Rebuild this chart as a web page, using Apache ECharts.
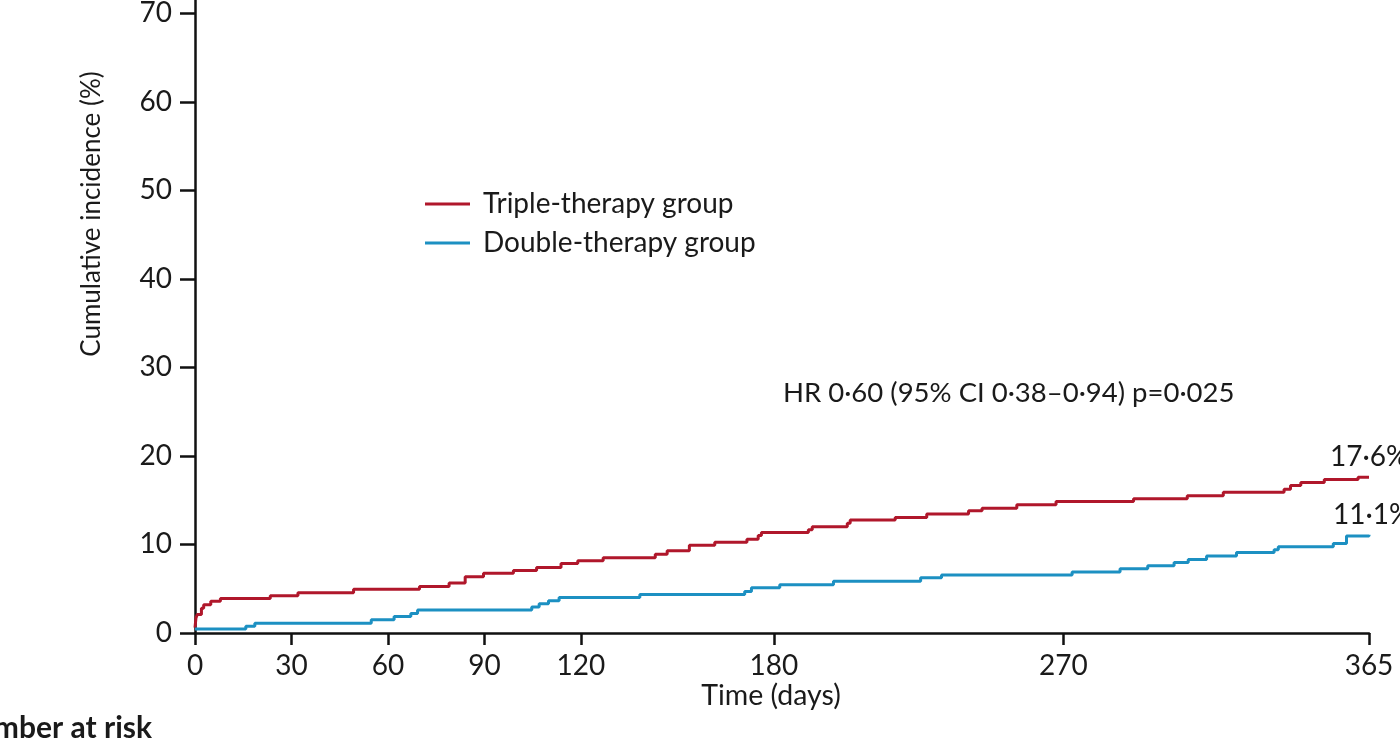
<!DOCTYPE html>
<html>
<head>
<meta charset="utf-8">
<script src="https://cdn.jsdelivr.net/npm/echarts@6/dist/echarts.min.js"></script>
<style>
html,body{margin:0;padding:0;background:#fff;}
#c{width:1400px;height:738px;}
</style>
</head>
<body>
<div id="c"></div>
<script>
// ---- data ----
var seriesNames = ['Triple-therapy group', 'Double-therapy group'];
var tripleDays = [0,0.3,0.7,2.0,2.7,4.9,7.9,23.4,32.0,49.3,69.8,79.0,84.0,89.7,99.0,106.2,113.8,119.0,126.9,143.1,146.8,153.7,161.6,171.6,175.1,176.1,190.7,191.9,202.8,203.7,217.7,227.5,240.5,244.7,255.5,267.7,291.8,308.5,319.7,338.6,340.6,343.8,351.1,361.6,365];
var tripleVals = [0.6,1.7,2.1,2.8,3.2,3.6,3.9,4.2,4.55,4.95,5.25,5.65,6.35,6.75,7.05,7.4,7.85,8.15,8.5,8.9,9.3,9.9,10.25,10.6,11.0,11.35,11.65,12.0,12.4,12.75,13.05,13.45,13.8,14.1,14.5,14.85,15.15,15.5,15.9,16.25,16.65,17.0,17.35,17.6,17.6];
var doubleDays = [0,15.8,18.6,54.8,61.9,67.1,69.2,104.7,107.0,109.9,113.2,138.3,170.9,173.0,181.8,198.5,225.6,232.1,272.7,287.6,296.2,304.4,308.8,314.5,323.8,335.5,336.8,353.9,358.0,365];
var doubleVals = [0.45,0.75,1.1,1.5,1.85,2.2,2.6,2.95,3.3,3.65,4.0,4.35,4.7,5.1,5.45,5.85,6.25,6.55,6.9,7.25,7.6,7.95,8.3,8.7,9.1,9.4,9.75,10.1,10.95,11.1];
var xTicks = [0,30,60,90,120,180,270,365];
var yTicks = [0,10,20,30,40,50,60,70];
var endLabels = ['17·6%', '11·1%'];
var hrText = 'HR 0·60 (95% CI 0·38–0·94) p=0·025';

function pairs(xs, ys){ return xs.map(function(x,i){ return [x, ys[i]]; }); }

var FONT = 'Lato';
var TXT = '#1a1a1a';
var RED = '#b0172b';
var BLUE = '#1c90c2';

var chart = echarts.init(document.getElementById('c'));
chart.setOption({
  backgroundColor: '#fff',
  animation: false,
  textStyle: { fontFamily: FONT },
  grid: { left: 195, right: 31, top: 0, bottom: 105, containLabel: false, outerBoundsMode: 'none' },
  xAxis: {
    type: 'value', min: 0, max: 365,
    axisLine: { show: true, lineStyle: { color: '#111', width: 2.5 } },
    axisTick: { show: true, length: 12, lineStyle: { color: '#111', width: 2.5 }, customValues: xTicks },
    axisLabel: { fontSize: 28, color: TXT, margin: 19, fontFamily: FONT, customValues: xTicks },
    splitLine: { show: false }
  },
  yAxis: {
    type: 'value', min: 0, max: 71.5,
    axisLine: { show: true, lineStyle: { color: '#111', width: 2.5 } },
    axisTick: { show: true, length: 15, lineStyle: { color: '#111', width: 2.5 }, customValues: yTicks },
    axisLabel: { fontSize: 28, color: TXT, margin: 23, fontFamily: FONT, customValues: yTicks },
    splitLine: { show: false }
  },
  legend: {
    orient: 'vertical', left: 420, top: 184,
    icon: 'rect', itemWidth: 45, itemHeight: 3, itemGap: 9,
    textStyle: { fontSize: 28, color: TXT, fontFamily: FONT, lineHeight: 30, padding: [0,0,0,8] },
    data: seriesNames
  },
  series: [
    { name: seriesNames[0], type: 'line', step: 'end', symbol: 'none', data: pairs(tripleDays, tripleVals),
      lineStyle: { color: RED, width: 3 }, itemStyle: { color: RED } },
    { name: seriesNames[1], type: 'line', step: 'end', symbol: 'none', data: pairs(doubleDays, doubleVals),
      lineStyle: { color: BLUE, width: 3 }, itemStyle: { color: BLUE } }
  ],
  graphic: [
    { type: 'text', x: 92, y: 214, rotation: Math.PI/2,
      style: { text: 'Cumulative incidence (%)', font: '26px ' + FONT, fill: TXT, align: 'center', verticalAlign: 'middle' } },
    { type: 'text', x: 771, y: 696,
      style: { text: 'Time (days)', font: '28.5px ' + FONT, fill: TXT, align: 'center', verticalAlign: 'middle' } },
    { type: 'text', x: 783, y: 393,
      style: { text: hrText, font: '27.5px ' + FONT, fill: TXT, align: 'left', verticalAlign: 'middle' } },
    { type: 'text', x: 1330, y: 457,
      style: { text: endLabels[0], font: '28px ' + FONT, fill: TXT, align: 'left', verticalAlign: 'middle' } },
    { type: 'text', x: 1333, y: 515,
      style: { text: endLabels[1], font: '28px ' + FONT, fill: TXT, align: 'left', verticalAlign: 'middle' } },
    { type: 'text', x: 152, y: 728,
      style: { text: 'Number at risk', font: 'bold 30px ' + FONT, fill: TXT, align: 'right', verticalAlign: 'middle' } }
  ]
});
</script>
</body>
</html>
